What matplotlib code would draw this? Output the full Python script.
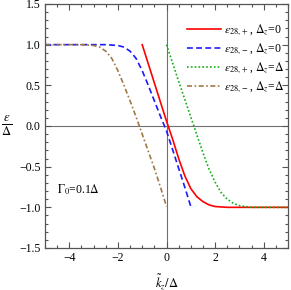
import numpy as np
import matplotlib
matplotlib.use("Agg")
import matplotlib.pyplot as plt
from matplotlib.ticker import MultipleLocator

plt.rcParams['font.family'] = ['Liberation Serif', 'DejaVu Serif']
plt.rcParams['mathtext.fontset'] = 'stix'

# --- data ---
k_red = [-1.0, -0.5, 0.0, 0.25, 0.5, 0.75, 1.0, 1.25, 1.5, 1.75, 2.0, 2.5, 3.0, 4.0, 5.0]
e_red = [1.0, 0.53, 0.06, -0.16, -0.40, -0.61, -0.77, -0.87, -0.93, -0.97, -0.99, -1.0, -1.0, -1.0, -1.0]

k_blue = [-5.0, -3.0, -2.5, -2.0, -1.75, -1.5, -1.25, -1.0, -0.75, -0.5, -0.25, 0.0, 0.25, 0.5, 0.75, 1.0]
e_blue = [1.0, 1.0, 1.0, 0.99, 0.97, 0.92, 0.83, 0.68, 0.50, 0.31, 0.12, -0.06, -0.29, -0.52, -0.75, -0.99]

k_green = [0.0, 0.5, 1.0, 1.25, 1.5, 1.75, 2.0, 2.25, 2.5, 2.75, 3.0, 3.5, 4.0, 5.0]
e_green = [1.0, 0.55, 0.11, -0.11, -0.33, -0.53, -0.69, -0.82, -0.90, -0.95, -0.98, -1.0, -1.0, -1.0]

k_brown = [-5.0, -4.0, -3.5, -3.0, -2.75, -2.5, -2.25, -2.0, -1.75, -1.5, -1.25, -1.0, -0.75, -0.5, -0.25, 0.0]
e_brown = [1.0, 1.0, 1.0, 0.99, 0.97, 0.92, 0.83, 0.68, 0.50, 0.31, 0.11, -0.10, -0.31, -0.52, -0.75, -0.99]

labels = [r"$\epsilon_{28,+}$, $\Delta_z$=0",
          r"$\epsilon_{28,-}$, $\Delta_z$=0",
          r"$\epsilon_{28,+}$, $\Delta_z$=$\Delta$",
          r"$\epsilon_{28,-}$, $\Delta_z$=$\Delta$"]

fig = plt.figure(figsize=(2.91, 2.90), dpi=100)
ax = fig.add_axes([45/291, 1 - 248/290, 243/291, 244/290])

ax.axhline(0, color='#707070', lw=0.8, zorder=1)
ax.axvline(0, color='#707070', lw=0.8, zorder=1)

ax.plot(k_red, e_red, color='#ff0000', lw=1.2, ls='-', label=labels[0])
ax.plot(k_blue, e_blue, color='#1a1aff', lw=1.2, ls=(0, (3.5, 2)), label=labels[1])
ax.plot(k_green, e_green, color='#10b010', lw=1.2, ls=(0, (1, 1.3)), label=labels[2])
ax.plot(k_brown, e_brown, color='#a07848', lw=1.2, ls=(0, (3, 1.5, 1, 1.5)), label=labels[3])

ax.set_xlim(-5, 5)
ax.set_ylim(-1.5, 1.5)
ax.xaxis.set_major_locator(MultipleLocator(2))
ax.xaxis.set_minor_locator(MultipleLocator(0.5))
ax.yaxis.set_major_locator(MultipleLocator(0.5))
ax.yaxis.set_minor_locator(MultipleLocator(0.1))
ax.tick_params(which='both', direction='in', top=True, right=True, color='#555555', width=0.8,
               labelsize=8.5, pad=3)
ax.tick_params(which='major', length=4)
ax.tick_params(which='minor', length=2)
ax.set_yticklabels([f"{v:.1f}".replace('-', '\u2212') for v in ax.get_yticks()])
for s in ax.spines.values():
    s.set_color('#555555')
    s.set_linewidth(0.9)

ax.set_xlabel(r"$\tilde{k}_z/\Delta$", fontsize=9, labelpad=6)
ax.set_ylabel(r"$\frac{\epsilon}{\Delta}$", fontsize=13, rotation=0, labelpad=9, va='center')

ax.text(-4.5, -0.78, r"$\Gamma_0$=0.1$\Delta$", fontsize=8.5, va='center')

ax.legend(loc='upper right', bbox_to_anchor=(0.985, 0.925), frameon=False, fontsize=8.5,
          handlelength=2.9, handletextpad=0.3, labelspacing=0.3, borderpad=0, borderaxespad=0)

fig.savefig("out.png", dpi=100)
